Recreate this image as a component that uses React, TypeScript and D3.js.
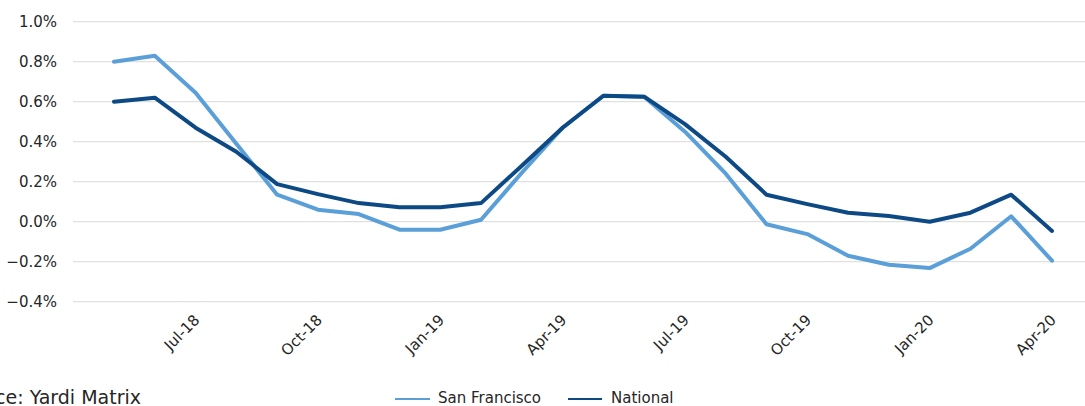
import React from "react";
import * as d3 from "d3";

// Monthly rent change, May 2018 – Apr 2020
const months = [
  "May-18", "Jun-18", "Jul-18", "Aug-18", "Sep-18", "Oct-18", "Nov-18", "Dec-18",
  "Jan-19", "Feb-19", "Mar-19", "Apr-19", "May-19", "Jun-19", "Jul-19", "Aug-19",
  "Sep-19", "Oct-19", "Nov-19", "Dec-19", "Jan-20", "Feb-20", "Mar-20", "Apr-20",
];

const sanFrancisco = [
  0.80, 0.83, 0.645, 0.39, 0.135, 0.06, 0.038, -0.04, -0.04, 0.01, 0.245, 0.47,
  0.63, 0.625, 0.45, 0.24, -0.013, -0.062, -0.17, -0.215, -0.232, -0.135, 0.027, -0.195,
];

const national = [
  0.60, 0.62, 0.47, 0.35, 0.188, 0.138, 0.093, 0.072, 0.072, 0.093, 0.28, 0.47,
  0.63, 0.625, 0.488, 0.325, 0.135, 0.088, 0.045, 0.028, 0.0, 0.045, 0.135, -0.046,
];

const yTicks = [-0.4, -0.2, 0, 0.2, 0.4, 0.6, 0.8, 1.0];
const xTickLabels = ["Jul-18", "Oct-18", "Jan-19", "Apr-19", "Jul-19", "Oct-19", "Jan-20", "Apr-20"];

const W = 1085;
const H = 406;
const FONT = "'DejaVu Sans', sans-serif";
const TEXT = "#262626";
const SF_COLOR = "#5b9fd8";
const NAT_COLOR = "#0d4a85";

export default function App() {
  const x = d3.scalePoint<string>().domain(months).range([114, 1052]).padding(0);
  const y = d3.scaleLinear().domain([-0.4, 1.0]).range([301.7, 21.7]);

  const line = d3
    .line<number>()
    .x((_, i) => x(months[i]) as number)
    .y((d) => y(d));

  const series = [
    { name: "San Francisco", values: sanFrancisco, color: SF_COLOR },
    { name: "National", values: national, color: NAT_COLOR },
  ];

  return (
    <svg
      width={W}
      height={H}
      style={{ position: "absolute", left: 0, top: 0, background: "#fff" }}
      fontFamily={FONT}
    >
      {yTicks.map((t) => (
        <g key={t}>
          <line x1={73} x2={W} y1={y(t)} y2={y(t)} stroke="#d9d9d9" strokeWidth={1} />
          <text
            x={57}
            y={y(t)}
            dy="0.35em"
            textAnchor="end"
            fontSize={15}
            fill={TEXT}
          >
            {d3.format(".1f")(t) + "%"}
          </text>
        </g>
      ))}

      {xTickLabels.map((lab) => {
        const px = (x(lab) as number) + 5;
        const py = 321;
        return (
          <text
            key={lab}
            transform={`translate(${px},${py}) rotate(-45)`}
            textAnchor="end"
            fontSize={15}
            fill={TEXT}
          >
            {lab}
          </text>
        );
      })}

      {series.map((s) => (
        <path
          key={s.name}
          d={line(s.values) ?? ""}
          fill="none"
          stroke={s.color}
          strokeWidth={4}
          strokeLinejoin="round"
          strokeLinecap="round"
        />
      ))}

      {/* legend */}
      <line x1={395} x2={430} y1={399} y2={399} stroke={SF_COLOR} strokeWidth={2.2} />
      <text x={438} y={398} dy="0.35em" fontSize={15} fill={TEXT}>San Francisco</text>
      <line x1={568} x2={602} y1={399} y2={399} stroke={NAT_COLOR} strokeWidth={2.2} />
      <text x={611} y={398} dy="0.35em" fontSize={15} fill={TEXT}>National</text>

      {/* source note */}
      <text x={141} y={404} textAnchor="end" fontSize={19} fill={TEXT}>
        Source: Yardi Matrix
      </text>
    </svg>
  );
}
